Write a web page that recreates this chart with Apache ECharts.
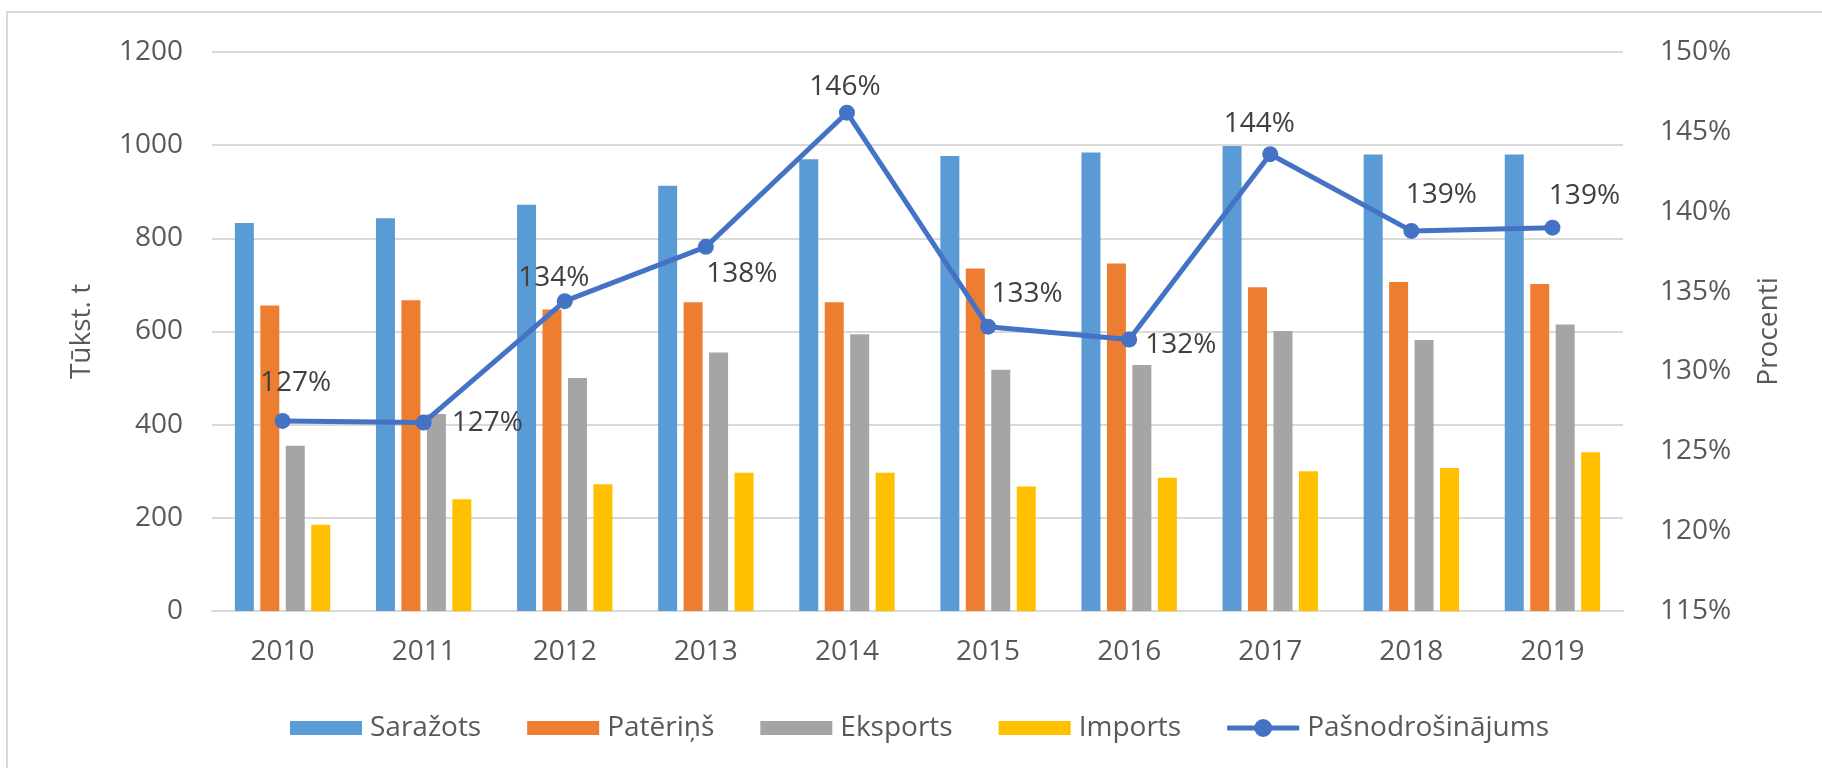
<!DOCTYPE html>
<html>
<head>
<meta charset="utf-8">
<script src="https://cdn.jsdelivr.net/npm/echarts@6/dist/echarts.min.js"></script>
<style>
  html, body { margin: 0; padding: 0; background: #fff; }
  #main { width: 1822px; height: 768px; }
</style>
</head>
<body>
<div id="main"></div>
<script>
// dati
var years = ['2010', '2011', '2012', '2013', '2014', '2015', '2016', '2017', '2018', '2019'];
var sarazots = [833, 843, 872, 913, 970, 977, 984, 998, 980, 980];
var pateRins = [656, 667, 647, 663, 663, 735, 746, 695, 706, 702];
var eksports = [355, 423, 500, 555, 594, 518, 528, 601, 582, 615];
var imports = [185, 240, 272, 297, 297, 267, 286, 300, 307, 341];
var pasnodr = [126.9, 126.8, 134.4, 137.8, 146.2, 132.8, 132.0, 143.6, 138.8, 139.0];
// kur novietot procentu uzrakstu katram punktam
var labelPos = ['top', 'right', 'top', 'bottom', 'top', 'top', 'right', 'top', 'top', 'top'];
var labelOffset = [[13, -11], [15, 0], [-11, 4], [36, 0], [-2, 1], [39, -6], [3, 6], [-11, -3], [30, -9], [32, -5]];

var font = 'Open Sans';
var txt = '#595959';

var myChart = echarts.init(document.getElementById('main'));

var barIcon = 'path://M0,2h72v14h-72z';
var lineIcon = 'path://M0,6.5h72v5h-72z M27,9a9,9 0 1,1 18,0a9,9 0 1,1 -18,0z';

var option = {
  textStyle: { fontFamily: font },
  color: ['#5B9BD5', '#ED7D31', '#A5A5A5', '#FFC000', '#4472C4'],
  graphic: [{
    type: 'rect',
    shape: { x: 7, y: 12, width: 1840, height: 800 },
    style: { fill: 'none', stroke: '#d9d9d9', lineWidth: 2 },
    silent: true
  }],
  grid: { left: 212, right: 199, top: 52, bottom: 157 },
  legend: {
    left: 285,
    top: 709,
    itemWidth: 72,
    itemHeight: 18,
    itemGap: 46,
    textStyle: { fontFamily: font, fontSize: 28, color: txt, padding: [0, 0, 0, 3] },
    data: [
      { name: 'Saražots', icon: barIcon },
      { name: 'Patēriņš', icon: barIcon },
      { name: 'Eksports', icon: barIcon },
      { name: 'Imports', icon: barIcon },
      { name: 'Pašnodrošinājums', icon: lineIcon }
    ]
  },
  xAxis: {
    type: 'category',
    data: years,
    axisTick: { show: false },
    axisLine: { lineStyle: { color: '#d9d9d9', width: 2 } },
    axisLabel: { color: txt, fontSize: 28, margin: 27 }
  },
  yAxis: [{
    type: 'value',
    min: 0,
    max: 1200,
    interval: 200,
    name: 'Tūkst. t',
    nameLocation: 'middle',
    nameRotate: 90,
    nameGap: 116,
    nameTextStyle: { color: txt, fontSize: 28, fontFamily: font },
    axisLabel: { color: txt, fontSize: 28, margin: 29, formatter: function (v) { return String(v); } },
    axisLine: { show: false },
    splitLine: { lineStyle: { color: '#d9d9d9', width: 2 } }
  }, {
    type: 'value',
    min: 115,
    max: 150,
    interval: 5,
    name: 'Procenti',
    nameLocation: 'middle',
    nameRotate: 90,
    nameGap: 132,
    nameTextStyle: { color: txt, fontSize: 28, fontFamily: font },
    axisLabel: { color: txt, fontSize: 28, margin: 37, formatter: '{value}%' },
    axisLine: { show: false },
    splitLine: { show: false }
  }],
  series: [
    { name: 'Saražots', type: 'bar', data: sarazots, barWidth: 19, barGap: '34%' },
    { name: 'Patēriņš', type: 'bar', data: pateRins, barWidth: 19, barGap: '34%' },
    { name: 'Eksports', type: 'bar', data: eksports, barWidth: 19, barGap: '34%' },
    { name: 'Imports', type: 'bar', data: imports, barWidth: 19, barGap: '34%' },
    {
      name: 'Pašnodrošinājums',
      type: 'line',
      yAxisIndex: 1,
      symbol: 'circle',
      symbolSize: 16,
      lineStyle: { width: 5 },
      data: pasnodr.map(function (v, i) {
        return { value: v, label: { position: labelPos[i], offset: labelOffset[i] } };
      }),
      label: {
        show: true,
        color: '#404040',
        fontSize: 28,
        fontFamily: font,
        formatter: function (p) { return Math.round(p.value) + '%'; }
      },
      z: 5
    }
  ]
};

myChart.setOption(option);
window.onresize = myChart.resize;
</script>
</body>
</html>
